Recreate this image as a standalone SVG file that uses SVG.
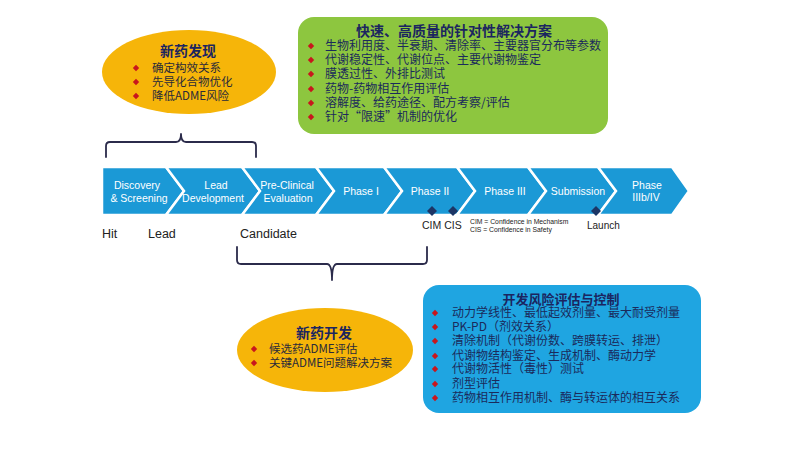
<svg xmlns="http://www.w3.org/2000/svg" width="800" height="450" viewBox="0 0 800 450">
<style>
.cjk{font-family:"Noto Sans CJK SC","Liberation Sans",sans-serif;}
.title{font-weight:bold;fill:#1b2560;text-anchor:middle;}
.item{font-size:12px;fill:#1b2a5b;}
.yitem{font-size:11.5px;fill:#2a2a3a;}
.stage{font-family:"Liberation Sans",Arial,sans-serif;font-size:10.5px;fill:#ffffff;text-anchor:middle;}
.seg{fill:#1b99d6;stroke:#ffffff;stroke-width:2.5;stroke-linejoin:miter;}
.lbl{font-family:"Liberation Sans",Arial,sans-serif;fill:#222;}
.brace{fill:none;stroke:#2b2b4b;stroke-width:1.8;stroke-linecap:round;stroke-linejoin:round;}
.ms{fill:#1c3565;}
</style>
<defs>
<polygon id="bul" points="0,-3.2 3.2,0 0,3.2 -3.2,0" fill="#c8161d"/>
</defs>
<rect width="800" height="450" fill="#ffffff"/>

<g id="connectors">
<path class="brace" d="M106,157 L106,146 Q106,142 110,142 L176,142 Q181,142 181,134 Q181,142 186,142 L252,142 Q256,142 256,146 L256,157"/>
<path class="brace" d="M237,247 L237,260 Q237,264 241,264 L327,264 Q332,264 332,280 Q332,264 337,264 L423,264 Q427,264 427,260 L427,247"/>
</g>

<g id="node-discovery">
<ellipse cx="189" cy="72" rx="87" ry="42" fill="#f6b509"/>
<text class="cjk title" x="188" y="56" font-size="14">新药发现</text>
<use href="#bul" x="136" y="68"/>
<use href="#bul" x="136" y="82"/>
<use href="#bul" x="136" y="96"/>
<text class="cjk yitem" x="152" y="72">确定构效关系</text>
<text class="cjk yitem" x="152" y="86">先导化合物优化</text>
<text class="cjk yitem" x="152" y="100">降低ADME风险</text>
</g>

<g id="node-solutions">
<rect x="298" y="17" width="310" height="117" rx="16" fill="#8dc63f"/>
<text class="cjk title" x="454" y="36" font-size="14">快速、高质量的针对性解决方案</text>
<use href="#bul" x="311" y="46"/>
<use href="#bul" x="311" y="60"/>
<use href="#bul" x="311" y="74"/>
<use href="#bul" x="311" y="89"/>
<use href="#bul" x="311" y="103"/>
<use href="#bul" x="311" y="117"/>
<text class="cjk item" x="325" y="50">生物利用度、半衰期、清除率、主要器官分布等参数</text>
<text class="cjk item" x="325" y="64">代谢稳定性、代谢位点、主要代谢物鉴定</text>
<text class="cjk item" x="325" y="78">膜透过性、外排比测试</text>
<text class="cjk item" x="325" y="93">药物-药物相互作用评估</text>
<text class="cjk item" x="325" y="107">溶解度、给药途径、配方考察/评估</text>
<text class="cjk item" x="325" y="121">针对“限速”机制的优化</text>
</g>

<g id="node-pipeline">
<polygon class="seg" points="102,167 166,167 184,191 166,215 102,215"/>
<polygon class="seg" points="166,167 242,167 260,191 242,215 166,215 184,191"/>
<polygon class="seg" points="242,167 316,167 334,191 316,215 242,215 260,191"/>
<polygon class="seg" points="316,167 384,167 402,191 384,215 316,215 334,191"/>
<polygon class="seg" points="384,167 457,167 475,191 457,215 384,215 402,191"/>
<polygon class="seg" points="457,167 528,167 546,191 528,215 457,215 475,191"/>
<polygon class="seg" points="528,167 598,167 616,191 598,215 528,215 546,191"/>
<polygon class="seg" points="598,167 672,167 689,191 672,215 598,215 616,191"/>
<text class="stage" x="137" y="189">Discovery</text>
<text class="stage" x="139" y="202">&amp; Screening</text>
<text class="stage" x="216" y="189">Lead</text>
<text class="stage" x="213" y="202">Development</text>
<text class="stage" x="287" y="189">Pre-Clinical</text>
<text class="stage" x="288" y="202">Evaluation</text>
<text class="stage" x="361" y="195">Phase I</text>
<text class="stage" x="430" y="195">Phase II</text>
<text class="stage" x="505" y="195">Phase III</text>
<text class="stage" x="578" y="195">Submission</text>
<text class="stage" x="647" y="189">Phase</text>
<text class="stage" x="646" y="201">IIIb/IV</text>
</g>

<g id="node-milestones">
<polygon class="ms" points="432,206 437,211 432,216 427,211"/>
<polygon class="ms" points="453,206 458,211 453,216 448,211"/>
<polygon class="ms" points="596,206 601,211 596,216 591,211"/>
<text class="lbl" x="102" y="238" font-size="12.5">Hit</text>
<text class="lbl" x="148" y="238" font-size="12.5">Lead</text>
<text class="lbl" x="240" y="238" font-size="12.5">Candidate</text>
<text class="lbl" x="422" y="229" font-size="10.5" fill="#333">CIM CIS</text>
<text class="lbl" x="587" y="229" font-size="10" fill="#333">Launch</text>
<text class="lbl" x="470" y="224" font-size="6.8" fill="#444">CIM = Confidence in Mechanism</text>
<text class="lbl" x="470" y="232" font-size="6.8" fill="#444">CIS = Confidence in Safety</text>
</g>

<g id="node-development">
<ellipse cx="325" cy="350" rx="88" ry="42" fill="#f6b509"/>
<text class="cjk title" x="324" y="338" font-size="14">新药开发</text>
<use href="#bul" x="254" y="349"/>
<use href="#bul" x="254" y="363"/>
<text class="cjk yitem" x="269" y="353" font-size="11">候选药ADME评估</text>
<text class="cjk yitem" x="269" y="367" font-size="11">关键ADME问题解决方案</text>
</g>

<g id="node-risk">
<rect x="423" y="285" width="278" height="128" rx="16" fill="#1fa5e1"/>
<text class="cjk title" x="561" y="304" font-size="13">开发风险评估与控制</text>
<use href="#bul" x="435" y="313"/>
<use href="#bul" x="435" y="327"/>
<use href="#bul" x="435" y="341"/>
<use href="#bul" x="435" y="356"/>
<use href="#bul" x="435" y="369"/>
<use href="#bul" x="435" y="384"/>
<use href="#bul" x="435" y="398"/>
<text class="cjk item" x="452" y="317">动力学线性、最低起效剂量、最大耐受剂量</text>
<text class="cjk item" x="452" y="331">PK-PD（剂效关系）</text>
<text class="cjk item" x="452" y="345">清除机制（代谢份数、跨膜转运、排泄）</text>
<text class="cjk item" x="452" y="360">代谢物结构鉴定、生成机制、酶动力学</text>
<text class="cjk item" x="452" y="373">代谢物活性（毒性）测试</text>
<text class="cjk item" x="452" y="388">剂型评估</text>
<text class="cjk item" x="452" y="402">药物相互作用机制、酶与转运体的相互关系</text>
</g>
</svg>
